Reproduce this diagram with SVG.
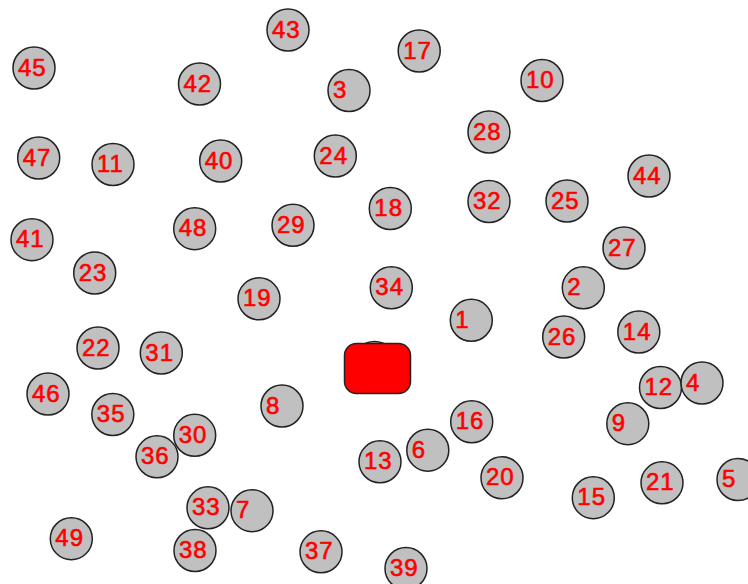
<svg xmlns="http://www.w3.org/2000/svg" width="748" height="584" viewBox="0 0 748 584">
<style>
.n circle{fill:#c0c0c0;stroke:#222;stroke-width:1.5}
.n text{fill:#ff0000;stroke:#ff0000;stroke-width:0.6;font-family:"Liberation Sans",Arial,sans-serif;font-size:24px;letter-spacing:1px;dominant-baseline:central}
</style>
<rect width="748" height="584" fill="#fff"/>
<g id="connectors"></g>
<g id="n45" class="n"><circle cx="34" cy="68" r="21"/><text x="18" y="67">45</text></g>
<g id="n42" class="n"><circle cx="199.5" cy="84" r="21"/><text x="183.5" y="83">42</text></g>
<g id="n47" class="n"><circle cx="38.7" cy="158" r="21"/><text x="22.7" y="157">47</text></g>
<g id="n11" class="n"><circle cx="113" cy="164.5" r="21"/><text x="97" y="163.5">11</text></g>
<g id="n40" class="n"><circle cx="220.7" cy="161" r="21"/><text x="204.7" y="160">40</text></g>
<g id="n43" class="n"><circle cx="288" cy="30" r="21"/><text x="272" y="29">43</text></g>
<g id="n17" class="n"><circle cx="419.2" cy="51" r="21"/><text x="403.2" y="50">17</text></g>
<g id="n3" class="n"><circle cx="349" cy="90.5" r="21"/><text x="333" y="89.5">3</text></g>
<g id="n24" class="n"><circle cx="335.3" cy="156" r="21"/><text x="319.3" y="155">24</text></g>
<g id="n28" class="n"><circle cx="489" cy="132" r="21"/><text x="473" y="131">28</text></g>
<g id="n10" class="n"><circle cx="542" cy="80.5" r="21"/><text x="526" y="79.5">10</text></g>
<g id="n44" class="n"><circle cx="649" cy="176" r="21"/><text x="633" y="175">44</text></g>
<g id="n41" class="n"><circle cx="32" cy="239.7" r="21"/><text x="16" y="238.7">41</text></g>
<g id="n48" class="n"><circle cx="194.7" cy="228.7" r="21"/><text x="178.7" y="227.7">48</text></g>
<g id="n23" class="n"><circle cx="94.7" cy="273" r="21"/><text x="78.7" y="272">23</text></g>
<g id="n22" class="n"><circle cx="98" cy="348" r="21"/><text x="82" y="347">22</text></g>
<g id="n31" class="n"><circle cx="161.3" cy="353" r="21"/><text x="145.3" y="352">31</text></g>
<g id="n46" class="n"><circle cx="48" cy="394" r="21"/><text x="32" y="393">46</text></g>
<g id="n29" class="n"><circle cx="293" cy="225.3" r="21"/><text x="277" y="224.3">29</text></g>
<g id="n18" class="n"><circle cx="390.3" cy="208.5" r="21"/><text x="374.3" y="207.5">18</text></g>
<g id="n32" class="n"><circle cx="489" cy="201.5" r="21"/><text x="473" y="200.5">32</text></g>
<g id="n25" class="n"><circle cx="567" cy="201" r="21"/><text x="551" y="200">25</text></g>
<g id="n34" class="n"><circle cx="391.3" cy="287.8" r="21"/><text x="375.3" y="286.8">34</text></g>
<g id="n19" class="n"><circle cx="259" cy="298.8" r="21"/><text x="243" y="297.8">19</text></g>
<g id="n1" class="n"><circle cx="471.3" cy="320.3" r="21"/><text x="455.3" y="319.3">1</text></g>
<g id="n27" class="n"><circle cx="624" cy="248" r="21"/><text x="608" y="247">27</text></g>
<g id="n2" class="n"><circle cx="583.3" cy="287.8" r="21"/><text x="567.3" y="286.8">2</text></g>
<g id="n26" class="n"><circle cx="563.7" cy="337" r="21"/><text x="547.7" y="336">26</text></g>
<g id="n14" class="n"><circle cx="638.8" cy="332" r="21"/><text x="622.8" y="331">14</text></g>
<g id="n12" class="n"><circle cx="660.5" cy="387.5" r="21"/><text x="644.5" y="386.5">12</text></g>
<g id="n4" class="n"><circle cx="702" cy="383" r="21"/><text x="686" y="382">4</text></g>
<g id="n35" class="n"><circle cx="112.8" cy="414.5" r="21"/><text x="96.8" y="413.5">35</text></g>
<g id="n30" class="n"><circle cx="194.7" cy="435.3" r="21"/><text x="178.7" y="434.3">30</text></g>
<g id="n36" class="n"><circle cx="157" cy="456.8" r="21"/><text x="141" y="455.8">36</text></g>
<g id="n33" class="n"><circle cx="208" cy="507.8" r="21"/><text x="192" y="506.8">33</text></g>
<g id="n7" class="n"><circle cx="252" cy="510.7" r="21"/><text x="236" y="509.7">7</text></g>
<g id="n49" class="n"><circle cx="71.3" cy="538.7" r="21"/><text x="55.3" y="537.7">49</text></g>
<g id="n38" class="n"><circle cx="195" cy="550.5" r="21"/><text x="179" y="549.5">38</text></g>
<g id="n8" class="n"><circle cx="282" cy="406" r="21"/><text x="266" y="405">8</text></g>
<g id="n16" class="n"><circle cx="471.7" cy="421.8" r="21"/><text x="455.7" y="420.8">16</text></g>
<g id="n6" class="n"><circle cx="427.8" cy="450.2" r="21"/><text x="411.8" y="449.2">6</text></g>
<g id="n13" class="n"><circle cx="380" cy="461.8" r="21"/><text x="364" y="460.8">13</text></g>
<g id="n20" class="n"><circle cx="502" cy="477.8" r="21"/><text x="486" y="476.8">20</text></g>
<g id="n37" class="n"><circle cx="321" cy="551.8" r="21"/><text x="305" y="550.8">37</text></g>
<g id="n39" class="n"><circle cx="406" cy="568.5" r="21"/><text x="390" y="567.5">39</text></g>
<g id="n9" class="n"><circle cx="627.8" cy="423.7" r="21"/><text x="611.8" y="422.7">9</text></g>
<g id="n15" class="n"><circle cx="593.3" cy="497.7" r="21"/><text x="577.3" y="496.7">15</text></g>
<g id="n21" class="n"><circle cx="662" cy="482.8" r="21"/><text x="646" y="481.8">21</text></g>
<g id="n5" class="n"><circle cx="738" cy="479.5" r="21"/><text x="722" y="478.5">5</text></g>
<g id="center" class="n"><circle cx="374.5" cy="362.5" r="21"/><rect x="344.5" y="343.5" width="66" height="50" rx="12" ry="12" fill="#ff0000" stroke="#222" stroke-width="1.5"/></g>
</svg>
